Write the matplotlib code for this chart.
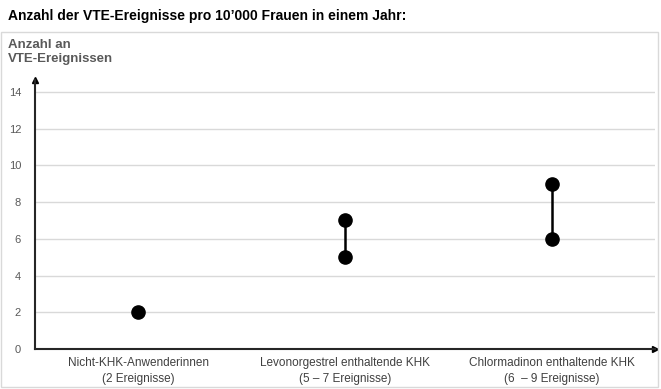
import matplotlib.pyplot as plt
from matplotlib.patches import Rectangle

plt.rcParams['font.family'] = ['Liberation Sans', 'DejaVu Sans']

categories = ['Nicht-KHK-Anwenderinnen\n(2 Ereignisse)',
              'Levonorgestrel enthaltende KHK\n(5 \u2013 7 Ereignisse)',
              'Chlormadinon enthaltende KHK\n(6  \u2013 9 Ereignisse)']
low = [2, 5, 6]
high = [2, 7, 9]
yticks = [0, 2, 4, 6, 8, 10, 12, 14]

W, H = 661, 389
fig = plt.figure(figsize=(W / 100, H / 100), dpi=100, facecolor='white')

# outer light frame
fig.patches.append(Rectangle((1 / W, 2 / H), 657 / W, 355 / H, transform=fig.transFigure,
                             fill=False, edgecolor='#d9d9d9', linewidth=1))

fig.text(8 / W, 1 - 16 / H, 'Anzahl der VTE-Ereignisse pro 10\u2019000 Frauen in einem Jahr:',
         fontsize=10, fontweight='bold', va='center', ha='left', color='black')
fig.text(8 / W, 1 - 52 / H, 'Anzahl an\nVTE-Ereignissen', fontsize=9.5, fontweight='bold',
         va='center', ha='left', color='#595959', linespacing=1.25)

ax = fig.add_axes([35 / W, 1 - 349 / H, 620 / W, 269 / H])
ax.set_xlim(-0.5, 2.5)
ax.set_ylim(0, 14.65)

for s in ['top', 'right']:
    ax.spines[s].set_visible(False)
for s in ['left', 'bottom']:
    ax.spines[s].set_color('#262626')
    ax.spines[s].set_linewidth(1.5)

ax.plot(1, 0, '>', color='black', markersize=5, transform=ax.transAxes, clip_on=False)
ax.plot(0, 1, '^', color='black', markersize=5, transform=ax.transAxes, clip_on=False)

ax.set_yticks(yticks)
ax.set_yticklabels([str(v) for v in yticks], fontsize=8, color='#595959')
ax.tick_params(axis='y', length=0, pad=10)
ax.set_xticks(range(len(categories)))
ax.set_xticklabels(categories, fontsize=8.5, color='#404040', linespacing=1.45)
ax.tick_params(axis='x', length=0, pad=6)

for v in yticks[1:]:
    ax.axhline(v, color='#d9d9d9', linewidth=1, zorder=0)

for i, (lo, hi) in enumerate(zip(low, high)):
    if hi != lo:
        ax.plot([i, i], [lo, hi], color='black', linewidth=1.8, zorder=2)
        ax.plot([i, i], [lo, hi], 'o', color='black', markersize=9.5, zorder=3)
    else:
        ax.plot(i, lo, 'o', color='black', markersize=9.5, zorder=3)

plt.savefig('out.png', dpi=100, facecolor='white')
